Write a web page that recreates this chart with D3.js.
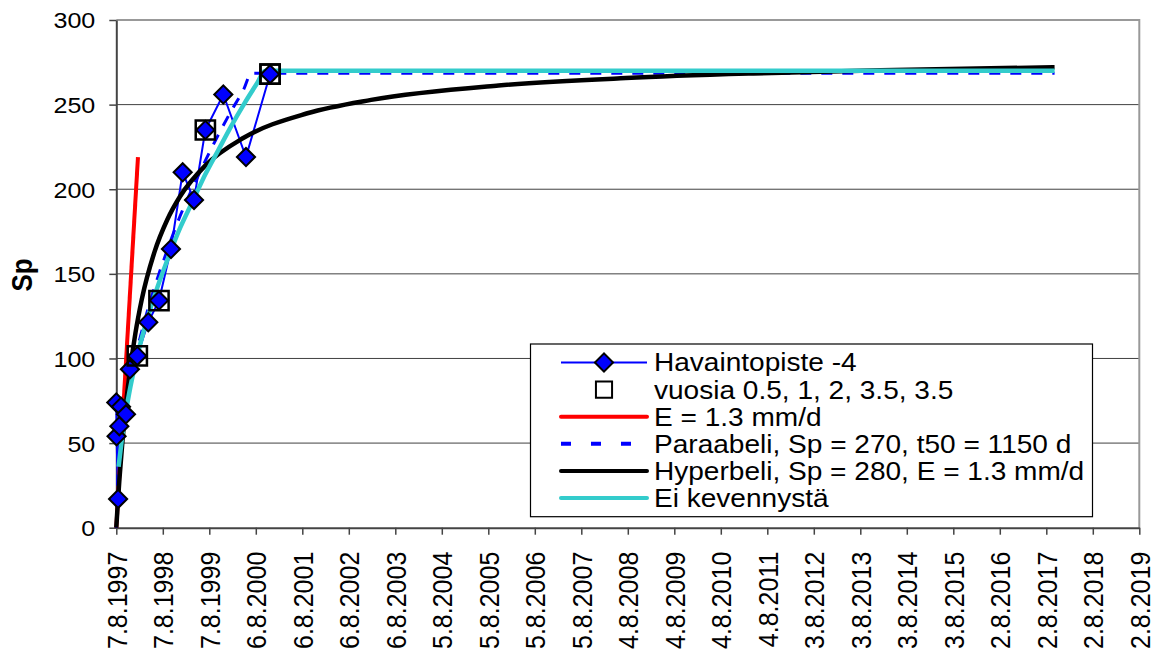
<!DOCTYPE html>
<html><head><meta charset="utf-8">
<script src="https://cdn.jsdelivr.net/npm/d3@7"></script>
<style>body{margin:0;background:#fff} svg{display:block} text{font-family:"Liberation Sans",Arial,sans-serif}</style>
</head><body><svg id="c" width="1157" height="654"></svg>
<script>
// ---- data ----
const xTickLabels = ["7.8.1997","7.8.1998","7.8.1999","6.8.2000","6.8.2001","6.8.2002","6.8.2003","5.8.2004","5.8.2005","5.8.2006","5.8.2007","4.8.2008","4.8.2009","4.8.2010","4.8.2011","3.8.2012","3.8.2013","3.8.2014","3.8.2015","2.8.2016","2.8.2017","2.8.2018","2.8.2019"];
const yTicks = [0, 50, 100, 150, 200, 250, 300];

// Havaintopiste -4 (days since 7.8.1997, Sp)
const obsDays = [0, 2, 14, 24, 37, 76, 107, 165, 251, 335, 429, 521, 610, 699, 840, 1018, 1207];
const obsSp   = [74, 54, 17, 60, 71.5, 67, 93.6, 101.5, 121.4, 134.2, 164.7, 210, 193.7, 235, 256, 219, 268];
// vuosia 0.5, 1, 2, 3.5, 3.5
const yearDays = [165, 335, 699, 1207, 1207];
const yearSp   = [101.5, 134.2, 235, 268, 268];
// E = 1.3 mm/d
const eDays = [0, 170];
const eSp   = [0, 219];
// Paraabeli
const paraDays = [0, 10, 25, 50, 100, 150, 200, 300, 400, 500, 600, 700, 800, 900, 1000, 1060, 7365];
const paraSp   = [0, 26, 41, 58, 82, 101, 116, 142, 164, 184, 201, 217, 232, 246, 259, 268.5, 268.5];
// Hyperbeli
const hypDays = [0, 10, 25, 50, 75, 100, 150, 200, 300, 400, 500, 700, 1000, 1500, 2000, 3000, 4000, 5000, 6000, 7365];
const hypSp   = [0, 12.4, 29.1, 52.8, 72.3, 88.8, 114.9, 134.9, 163.0, 182.0, 195.7, 214.1, 230.4, 244.9, 252.8, 261.3, 265.7, 268.4, 270.3, 272.1];
// Ei kevennystä
const eiDays = [18, 40, 70, 100, 150, 200, 300, 400, 500, 600, 700, 800, 900, 1000, 1100, 1170, 7365];
const eiSp   = [36, 50, 66, 79, 97, 112, 137, 158, 177, 193, 209, 223, 237, 250, 262, 270, 270];

const legendLabels = ["Havaintopiste -4", "vuosia 0.5, 1, 2, 3.5, 3.5", "E = 1.3 mm/d", "Paraabeli, Sp = 270, t50 = 1150 d", "Hyperbeli, Sp = 280, E = 1.3 mm/d", "Ei kevennystä"];

// ---- chart ----
const svg = d3.select("#c");
const xMax = (xTickLabels.length - 1) * 365;
const x = d3.scaleLinear().domain([0, xMax]).range([116.3, 1139.3]);
const y = d3.scaleLinear().domain([0, 300]).range([527.7, 20]);
const zip = (a, b) => a.map((d, i) => [d, b[i]]);

svg.append("rect").attr("width", 1157).attr("height", 654).attr("fill", "#fff");

// gridlines
svg.append("g").selectAll("line").data(yTicks.filter(d => d > 0 && d < 300)).join("line")
  .attr("x1", x(0)).attr("x2", x(xMax)).attr("y1", d => y(d)).attr("y2", d => y(d))
  .attr("stroke", "#404040").attr("stroke-width", 1);
// plot border top / right
svg.append("path").attr("d", `M${x(0)},${y(300)}H${x(xMax)}V${y(0)}`)
  .attr("fill", "none").attr("stroke", "#999").attr("stroke-width", 2);

// axes
const yAxis = svg.append("g").attr("transform", `translate(${x(0)},0)`)
  .call(d3.axisLeft(y).tickValues(yTicks).tickSize(7).tickSizeOuter(0));
yAxis.attr("font-family", null).attr("font-size", 22);
yAxis.select(".domain").attr("stroke", "#444").attr("stroke-width", 2);
yAxis.selectAll(".tick line").attr("stroke", "#444").attr("stroke-width", 1.5);
yAxis.selectAll(".tick text").attr("fill", "#000").attr("x", -21 / 1.14).attr("dy", "0.36em")
  .attr("transform", "scale(1.14,1)");

const xAxis = svg.append("g").attr("transform", `translate(0,${y(0)})`)
  .call(d3.axisBottom(x).tickValues(xTickLabels.map((_, i) => i * 365))
    .tickFormat((d, i) => xTickLabels[i]).tickSize(7).tickSizeOuter(0));
xAxis.attr("font-family", null).attr("font-size", 25);
xAxis.select(".domain").attr("stroke", "#444").attr("stroke-width", 2);
xAxis.selectAll(".tick line").attr("stroke", "#444").attr("stroke-width", 1.5);
xAxis.selectAll(".tick text").attr("fill", "#000").attr("x", 0).attr("y", 0).attr("dy", "0.35em")
  .attr("text-anchor", "end").attr("transform", "translate(0,24) scale(1.12,1) rotate(-90)");

// y title
svg.append("text").attr("transform", "translate(32,275) scale(1.1,1) rotate(-90)")
  .attr("text-anchor", "middle").attr("font-size", 26).attr("font-weight", "bold").text("Sp");

// lines
const line = d3.line().x(d => x(d[0])).y(d => y(d[1]));
const smooth = d3.line().x(d => x(d[0])).y(d => y(d[1])).curve(d3.curveMonotoneX);

svg.append("path").datum(zip(obsDays, obsSp)).attr("d", line)
  .attr("fill", "none").attr("stroke", "#0000ff").attr("stroke-width", 2);
svg.append("path").datum(zip(eDays, eSp)).attr("d", line)
  .attr("fill", "none").attr("stroke", "#ff0000").attr("stroke-width", 4);
svg.append("path").datum(zip(paraDays, paraSp)).attr("d", smooth)
  .attr("fill", "none").attr("stroke", "#0000ff").attr("stroke-width", 3).attr("stroke-dasharray", "11,10");
svg.append("path").datum(zip(hypDays, hypSp)).attr("d", smooth)
  .attr("fill", "none").attr("stroke", "#000").attr("stroke-width", 4.5);
svg.append("path").datum(zip(eiDays, eiSp)).attr("d", smooth)
  .attr("fill", "none").attr("stroke", "#33cccc").attr("stroke-width", 4.5);

// markers
const diamond = d3.symbol().type(d3.symbolSquare).size(165);
svg.append("g").selectAll("path").data(zip(obsDays, obsSp)).join("path")
  .attr("d", diamond).attr("transform", d => `translate(${x(d[0])},${y(d[1])}) rotate(45)`)
  .attr("fill", "#0000ff").attr("stroke", "#000").attr("stroke-width", 2);
const square = d3.symbol().type(d3.symbolSquare).size(370);
svg.append("g").selectAll("path").data(zip(yearDays, yearSp)).join("path")
  .attr("d", square).attr("transform", d => `translate(${x(d[0])},${y(d[1])})`)
  .attr("fill", "none").attr("stroke", "#000").attr("stroke-width", 2.5);

// legend
const lg = svg.append("g");
const lx = 530.5, ly = 344, lw = 562, lh = 172.7, rowH = 27.1, r0 = 362.5;
lg.append("rect").attr("x", lx).attr("y", ly).attr("width", lw).attr("height", lh)
  .attr("fill", "#fff").attr("stroke", "#000").attr("stroke-width", 1.2);
const sx0 = 561, sx1 = 647, sxm = 604;
const ry = i => r0 + i * rowH;
lg.append("line").attr("x1", sx0).attr("x2", sx1).attr("y1", ry(0)).attr("y2", ry(0)).attr("stroke", "#0000ff").attr("stroke-width", 2);
lg.append("path").attr("d", diamond).attr("transform", `translate(${sxm},${ry(0)}) rotate(45)`)
  .attr("fill", "#0000ff").attr("stroke", "#000").attr("stroke-width", 2);
lg.append("path").attr("d", d3.symbol().type(d3.symbolSquare).size(260)).attr("transform", `translate(${sxm},${ry(1)})`)
  .attr("fill", "none").attr("stroke", "#000").attr("stroke-width", 2);
lg.append("line").attr("x1", sx0).attr("x2", sx1).attr("y1", ry(2)).attr("y2", ry(2)).attr("stroke", "#ff0000").attr("stroke-width", 4).attr("stroke-linecap", "round");
lg.append("line").attr("x1", sx0).attr("x2", sx1).attr("y1", ry(3)).attr("y2", ry(3)).attr("stroke", "#0000ff").attr("stroke-width", 4).attr("stroke-dasharray", "10,20");
lg.append("line").attr("x1", sx0).attr("x2", sx1).attr("y1", ry(4)).attr("y2", ry(4)).attr("stroke", "#000").attr("stroke-width", 4).attr("stroke-linecap", "round");
lg.append("line").attr("x1", sx0).attr("x2", sx1).attr("y1", ry(5)).attr("y2", ry(5)).attr("stroke", "#33cccc").attr("stroke-width", 4).attr("stroke-linecap", "round");
legendLabels.forEach((t, i) => {
  lg.append("g").attr("transform", `translate(654,${ry(i)}) scale(1.1,1)`)
    .append("text").attr("dy", "0.35em").attr("font-size", 25.5).text(t);
});
</script></body></html>
